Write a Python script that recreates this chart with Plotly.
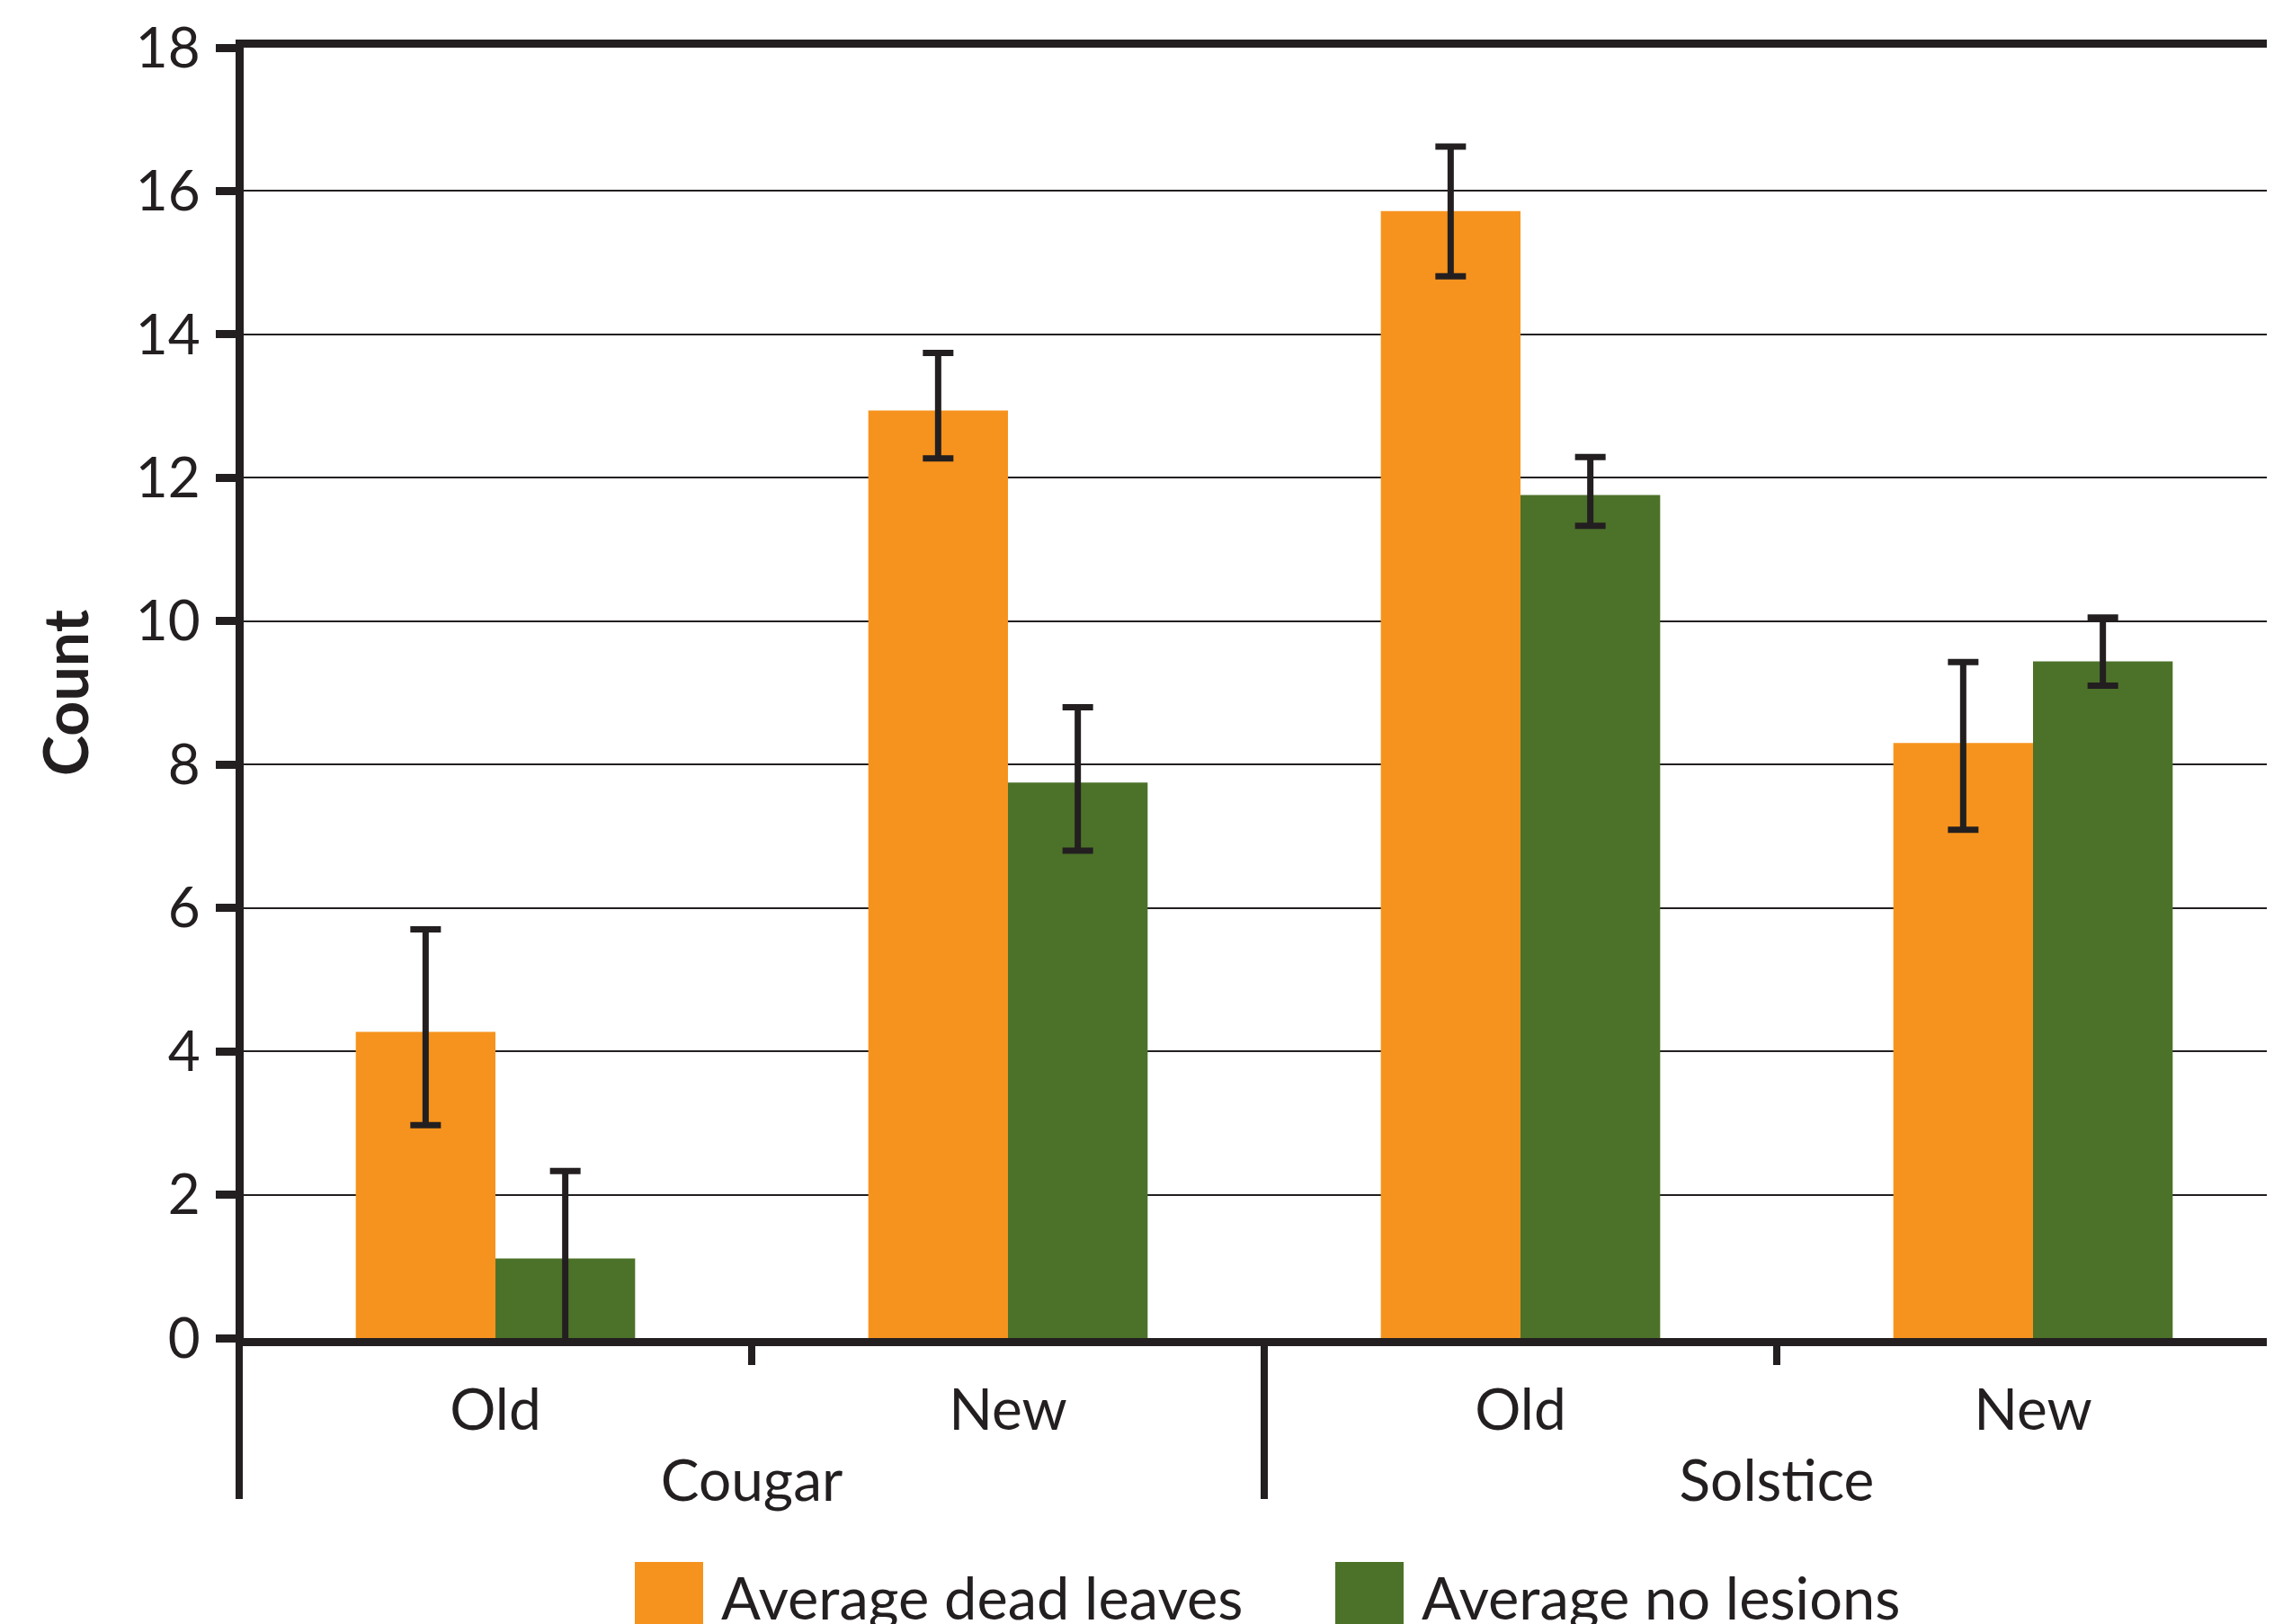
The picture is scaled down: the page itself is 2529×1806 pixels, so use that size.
import plotly.graph_objects as go

# ---- data ----
varieties = ["Cougar", "Cougar", "Solstice", "Solstice"]
ages = ["Old", "New", "Old", "New"]
series_names = ["Average dead leaves", "Average no lesions"]
dead_leaves = [4.27, 12.94, 15.72, 8.30]
dead_err_plus = [1.43, 0.80, 0.90, 1.13]
dead_err_minus = [1.30, 0.67, 0.91, 1.21]
no_lesions = [1.11, 7.75, 11.76, 9.44]
nol_err_plus = [1.22, 1.05, 0.53, 0.61]
nol_err_minus = [1.22, 0.95, 0.43, 0.34]
y_ticks = [0, 2, 4, 6, 8, 10, 12, 14, 16, 18]

# ---- style / layout constants ----
ORANGE = "#F6931E"
GREEN = "#4C7229"
INK = "#231F20"
FONT = "Lato"
W, H = 2529, 1806
OFF = 8                      # default page body margin in the browser
ML, MR, MT, MB = 263, 0, 45, 326
plot_w = W - ML - MR
plot_h = H - MT - MB
CAT_PX = 570.0               # pixels per category
AXIS_X_PAGE = 266.0          # page x of category boundary -0.5
r0 = -0.5 + (ML + OFF - AXIS_X_PAGE) / CAT_PX
r1 = r0 + plot_w / CAT_PX

fig = go.Figure()
for name, vals, ep, em, col in [
    (series_names[0], dead_leaves, dead_err_plus, dead_err_minus, ORANGE),
    (series_names[1], no_lesions, nol_err_plus, nol_err_minus, GREEN),
]:
    fig.add_trace(go.Bar(
        name=name, x=[varieties, ages], y=vals,
        marker=dict(color=col, line=dict(width=0)),
        error_y=dict(type="data", symmetric=False, array=ep, arrayminus=em,
                     color=INK, thickness=7, width=17),
        showlegend=False,
    ))

fig.update_layout(
    width=W, height=H,
    margin=dict(l=ML, r=MR, t=MT, b=MB, pad=0, autoexpand=False),
    paper_bgcolor="white", plot_bgcolor="white",
    barmode="group", bargap=0.455, bargroupgap=0,
    font=dict(family=FONT, size=62, color=INK),
)
fig.update_xaxes(
    type="multicategory", range=[r0, r1], automargin=False,
    showline=True, linecolor=INK, linewidth=9, mirror=True,
    ticks="outside", tickson="labels", ticklen=16, tickwidth=1,
    tickcolor="rgba(0,0,0,0)",
    showdividers=False,
    showgrid=False, tickfont=dict(family=FONT, size=64, color=INK),
)
fig.update_yaxes(
    range=[0, 18], tickvals=y_ticks, automargin=False,
    showline=True, linecolor=INK, linewidth=9,
    ticks="outside", ticklen=22, tickwidth=9, tickcolor=INK,
    showgrid=True, gridcolor=INK, gridwidth=2, zeroline=False,
    tickfont=dict(family=FONT, size=62, color=INK), ticklabelstandoff=5,
    title=dict(text="<b>Count</b>", font=dict(family=FONT, size=68, color=INK), standoff=33),
)

# ---- helpers: page pixel -> paper coordinates ----
def cat_to_paper(c):
    return (c - r0) / (r1 - r0)

def page_x(px):
    return (px - OFF - ML) / plot_w

def page_y(py):
    return (H - MB - (py - OFF)) / plot_h

# group dividers (long) and within-group ticks (short) below the x axis
for b in [-0.5, 1.5, 3.5]:
    fig.add_shape(type="line", xref="paper", yref="paper",
                  x0=cat_to_paper(b), x1=cat_to_paper(b), y0=0, y1=page_y(1667),
                  line=dict(color=INK, width=8), layer="above")
for b in [0.5, 2.5]:
    fig.add_shape(type="line", xref="paper", yref="paper",
                  x0=cat_to_paper(b), x1=cat_to_paper(b), y0=0, y1=page_y(1518),
                  line=dict(color=INK, width=8), layer="above")

# ---- manual legend (large swatches) ----
legend_items = [(series_names[0], ORANGE, 706), (series_names[1], GREEN, 1485)]
sw = 76
for name, col, x0 in legend_items:
    fig.add_shape(type="rect", xref="paper", yref="paper",
                  x0=page_x(x0), x1=page_x(x0 + sw),
                  y0=page_y(1737), y1=page_y(1737 + sw),
                  fillcolor=col, line=dict(width=0), layer="above")
    fig.add_annotation(text=name, xref="paper", yref="paper",
                       x=page_x(x0 + sw + 18), y=page_y(1776),
                       xanchor="left", yanchor="middle", showarrow=False,
                       font=dict(family=FONT, size=65, color=INK))

fig.write_html("out.html")
